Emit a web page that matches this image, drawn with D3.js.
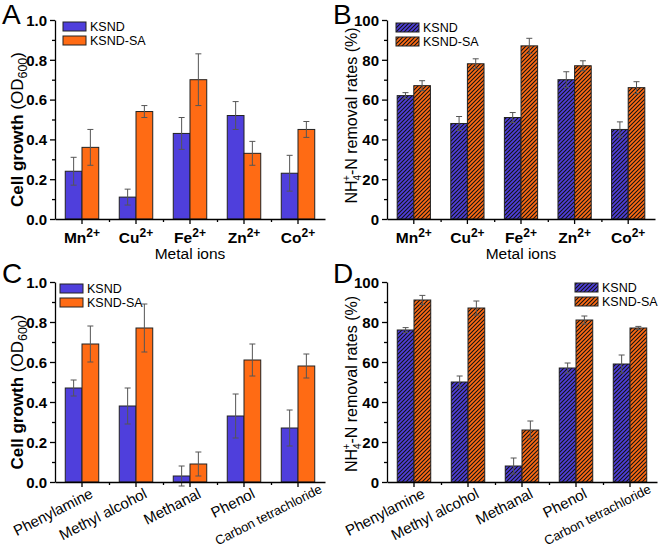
<!DOCTYPE html>
<html><head><meta charset="utf-8">
<script src="https://cdn.jsdelivr.net/npm/d3@7/dist/d3.min.js"></script>
<style>body{margin:0;background:#fff} svg{display:block} text{font-family:"Liberation Sans",Arial,sans-serif}</style>
</head><body><svg id="c" width="661" height="554"></svg>
<script>
const metalIons = ["Mn","Cu","Fe","Zn","Co"];
const metalCharge = ["2+","2+","2+","2+","2+"];
const organics = ["Phenylamine","Methyl alcohol","Methanal","Phenol","Carbon tetrachloride"];
const seriesNames = ["KSND","KSND-SA"];
const seriesColors = ["#4f3fdc","#ff6b14"];

const growthMetalKSND = [0.24,0.11,0.43,0.52,0.23];
const growthMetalKSNDErr = [0.07,0.04,0.08,0.07,0.09];
const growthMetalSA = [0.36,0.54,0.70,0.33,0.45];
const growthMetalSAErr = [0.09,0.03,0.13,0.06,0.04];

const removalMetalKSND = [62,48,51,70,45];
const removalMetalKSNDErr = [1.5,3.5,2.5,4,3.8];
const removalMetalSA = [67,78,87,77,66];
const removalMetalSAErr = [2.5,2.5,3.8,2.5,3];

const growthOrgKSND = [0.47,0.38,0.03,0.33,0.27];
const growthOrgKSNDErr = [0.04,0.09,0.05,0.11,0.09];
const growthOrgSA = [0.69,0.77,0.09,0.61,0.58];
const growthOrgSAErr = [0.09,0.12,0.06,0.08,0.06];

const removalOrgKSND = [76,50,8,57,59];
const removalOrgKSNDErr = [1.2,3,4,2.5,4.5];
const removalOrgSA = [91,87,26,81,77];
const removalOrgSAErr = [2.3,3.5,4.5,2,0.8];

const growthTicks = [0,0.2,0.4,0.6,0.8,1.0];
const growthMinor = [0.1,0.3,0.5,0.7,0.9];
const removalTicks = [0,20,40,60,80,100];
const removalMinor = [10,30,50,70,90];

const svg = d3.select("#c");
const defs = svg.append("defs");
defs.append("pattern").attr("id","hatch").attr("patternUnits","userSpaceOnUse")
  .attr("width",4).attr("height",4)
  .append("path").attr("d","M-1,1 l2,-2 M0,4 l4,-4 M3,5 l2,-2")
  .attr("stroke","#111").attr("stroke-width",1.1);

function panel(o){
  const g = svg.append("g");
  const x = d3.scaleBand().domain(d3.range(o.cats.length)).range([o.x0,o.x1]).paddingInner(0.38).paddingOuter(0.19);
  const xs = d3.scaleBand().domain([0,1]).range([0,x.bandwidth()]);
  const y = d3.scaleLinear().domain([0,o.max]).range([o.y0,o.y1]);
  const series = [[o.v0,o.e0],[o.v1,o.e1]];
  series.forEach((s,si)=>{
    s[0].forEach((v,i)=>{
      const bx = x(i)+xs(si);
      g.append("rect").attr("x",bx).attr("y",y(v)).attr("width",xs.bandwidth()).attr("height",y(0)-y(v))
        .attr("fill",seriesColors[si]);
      if(o.hatch) g.append("rect").attr("x",bx).attr("y",y(v)).attr("width",xs.bandwidth()).attr("height",y(0)-y(v))
        .attr("fill","url(#hatch)");
      g.append("rect").attr("x",bx).attr("y",y(v)).attr("width",xs.bandwidth()).attr("height",y(0)-y(v))
        .attr("fill","none").attr("stroke","#222").attr("stroke-width",1);
    });
  });
  series.forEach((s,si)=>{
    s[0].forEach((v,i)=>{
      const cx = x(i)+xs(si)+xs.bandwidth()/2, e = s[1][i];
      const eg = g.append("g").attr("stroke","#555").attr("stroke-width",1);
      eg.append("line").attr("x1",cx).attr("x2",cx).attr("y1",y(v-e)).attr("y2",y(v+e));
      eg.append("line").attr("x1",cx-3).attr("x2",cx+3).attr("y1",y(v+e)).attr("y2",y(v+e));
      eg.append("line").attr("x1",cx-3).attr("x2",cx+3).attr("y1",y(v-e)).attr("y2",y(v-e));
    });
  });
  // y axis
  const ya = g.append("g").attr("transform",`translate(${o.x0},0)`)
    .call(d3.axisLeft(y).tickValues(o.ticks).tickSize(5).tickSizeOuter(0).tickFormat(o.fmt));
  ya.selectAll("text").attr("font-size",15).attr("font-weight","bold").attr("fill","#000").attr("font-family","Liberation Sans, Arial").attr("dy","0.35em");
  g.append("g").attr("transform",`translate(${o.x0},0)`)
    .call(d3.axisLeft(y).tickValues(o.minor).tickSize(3).tickFormat("")).select(".domain").remove();
  // x axis
  g.append("g").attr("transform",`translate(0,${o.y0})`)
    .call(d3.axisBottom(x).tickSize(5).tickSizeOuter(0).tickFormat(""));
  const bounds = d3.range(1,o.cats.length).map(i=>x(i)-x.step()*0.19);
  const lin = d3.scaleLinear().domain([0,661]).range([0,661]);
  g.append("g").attr("transform",`translate(0,${o.y0})`)
    .call(d3.axisBottom(lin).tickValues(bounds).tickSize(3).tickFormat("")).select(".domain").remove();
  g.selectAll(".domain, .tick line").attr("stroke","#000").attr("stroke-width",1.3);
  // x labels
  o.cats.forEach((c,i)=>{
    const cx = x(i)+x.bandwidth()/2;
    if(o.sup){
      const t = g.append("text").attr("x",cx).attr("y",o.y0+24).attr("text-anchor","middle")
        .attr("font-size",15.5).attr("font-weight","bold");
      t.append("tspan").text(c);
      t.append("tspan").attr("dy",-6).attr("font-size",12).text(o.sup[i]);
    } else {
      const small = c.length>15;
      const fs = small ? 13 : 15;
      const dx = small ? o.longDx : 12, dy = small ? 10 : 15;
      g.append("text").attr("transform",`translate(${cx+dx},${o.y0+dy}) rotate(-27)`)
        .attr("text-anchor","end").attr("font-size",fs).text(c);
    }
  });
  if(o.xtitle) g.append("text").attr("x",(o.x0+o.x1)/2).attr("y",o.y0+40).attr("text-anchor","middle")
    .attr("font-size",15.5).text(o.xtitle);
  // y title
  const yt = g.append("text").attr("transform",`translate(${o.ytx},${(o.y0+o.y1)/2+o.ytdy}) rotate(-90)`)
    .attr("text-anchor","middle");
  if(o.hatch){
    yt.attr("font-size",16);
    yt.append("tspan").text("NH");
    yt.append("tspan").attr("font-size",10).attr("dy",4).text("4");
    yt.append("tspan").attr("font-size",10).attr("dx",-6).attr("dy",-11).text("+");
    yt.append("tspan").attr("dy",7).text("-N removal rates (%)");
  } else {
    yt.attr("font-size",17);
    yt.append("tspan").attr("font-weight","bold").text("Cell growth ");
    yt.append("tspan").text("(OD");
    yt.append("tspan").attr("font-size",12.5).attr("dy",4).text("600");
    yt.append("tspan").attr("dy",-4).text(")");
  }
  // legend
  seriesNames.forEach((n,si)=>{
    const ly = o.ly + si*14;
    g.append("rect").attr("x",o.lx).attr("y",ly).attr("width",23).attr("height",9).attr("fill",seriesColors[si]);
    if(o.hatch) g.append("rect").attr("x",o.lx).attr("y",ly).attr("width",23).attr("height",9).attr("fill","url(#hatch)");
    g.append("rect").attr("x",o.lx).attr("y",ly).attr("width",23).attr("height",9).attr("fill","none").attr("stroke","#222").attr("stroke-width",1);
    g.append("text").attr("x",o.lx+27).attr("y",ly+9).attr("font-size",12.5).text(n);
  });
  // panel letter
  g.append("text").attr("x",o.px).attr("y",o.py).attr("font-size",28).text(o.letter);
}

const fmt1 = d3.format(".1f"), fmt0 = d3.format("d");
panel({letter:"A",px:2,py:24,x0:55,x1:325,y0:219,y1:20,max:1.0,cats:metalIons,sup:metalCharge,
  v0:growthMetalKSND,e0:growthMetalKSNDErr,v1:growthMetalSA,e1:growthMetalSAErr,
  ticks:growthTicks,minor:growthMinor,fmt:fmt1,xtitle:"Metal ions",ytx:23,ytdy:10,lx:63,ly:22,hatch:false});
panel({letter:"B",px:333,py:24,x0:387,x1:655,y0:219,y1:20,max:100,cats:metalIons,sup:metalCharge,
  v0:removalMetalKSND,e0:removalMetalKSNDErr,v1:removalMetalSA,e1:removalMetalSAErr,
  ticks:removalTicks,minor:removalMinor,fmt:fmt0,xtitle:"Metal ions",ytx:357,ytdy:-4,lx:396,ly:23,hatch:true});
panel({letter:"C",px:2,py:283,x0:55,x1:325,y0:482,y1:282,max:1.0,cats:organics,sup:null,longDx:25,
  v0:growthOrgKSND,e0:growthOrgKSNDErr,v1:growthOrgSA,e1:growthOrgSAErr,
  ticks:growthTicks,minor:growthMinor,fmt:fmt1,xtitle:null,ytx:23,ytdy:10,lx:60,ly:284,hatch:false});
panel({letter:"D",px:333,py:283,x0:387,x1:657,y0:482,y1:282,max:100,cats:organics,sup:null,longDx:22,
  v0:removalOrgKSND,e0:removalOrgKSNDErr,v1:removalOrgSA,e1:removalOrgSAErr,
  ticks:removalTicks,minor:removalMinor,fmt:fmt0,xtitle:null,ytx:357,ytdy:2,lx:575,ly:283,hatch:true});
</script></body></html>
